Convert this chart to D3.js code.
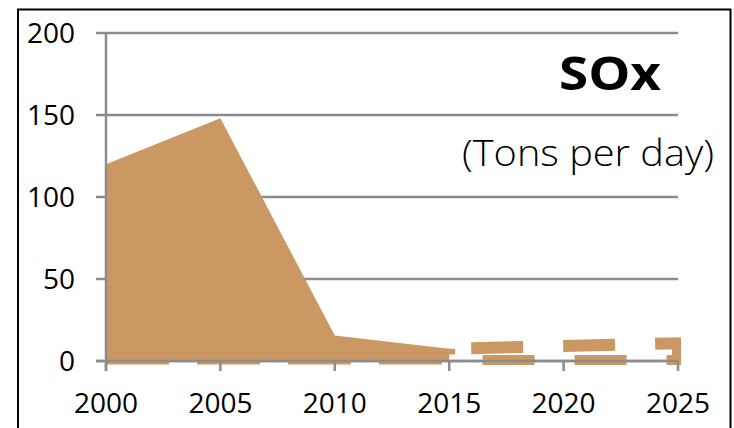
<!DOCTYPE html>
<html><head><meta charset="utf-8">
<script src="https://cdn.jsdelivr.net/npm/d3@7/dist/d3.min.js"></script>
<style>
html,body{margin:0;padding:0;background:#fff;}
svg{display:block;}
text{font-family:"Open Sans",sans-serif;fill:#000;}
</style></head>
<body>
<script>
const histYears = [2000, 2005, 2010, 2015];
const histValues = [120, 148, 15.5, 7.5];
const projYears = [2015, 2020, 2025];
const projValues = [7.5, 9.2, 10.8];
const xTicks = [2000, 2005, 2010, 2015, 2020, 2025];
const yTicks = [0, 50, 100, 150, 200];
const title = "SOx";
const subtitle = "(Tons per day)";

const W = 734, H = 428;
const svg = d3.select("body").append("svg").attr("width", W).attr("height", H);

svg.append("rect").attr("x", 18).attr("y", 9.5).attr("width", 712.5).attr("height", 440)
  .attr("fill", "none").attr("stroke", "#000").attr("stroke-width", 2);

const x = d3.scaleLinear().domain([2000, 2025]).range([106, 678]);
const y = d3.scaleLinear().domain([0, 200]).range([361, 33]);
const color = "#CB9863";
const grid = "#8C8C8C";

svg.append("g").selectAll("line").data(yTicks).join("line")
  .attr("x1", 96).attr("x2", 678)
  .attr("y1", d => y(d)).attr("y2", d => y(d))
  .attr("stroke", grid).attr("stroke-width", 2.5);

svg.append("defs").append("clipPath").attr("id", "clip")
  .append("rect").attr("x", 106).attr("y", 20).attr("width", 575).attr("height", 345);

const hist = histYears.map((d, i) => ({yr: d, v: histValues[i]}));
const proj = projYears.map((d, i) => ({yr: d, v: projValues[i]}));

const area = d3.area().x(d => x(d.yr)).y0(y(0)).y1(d => y(d.v));
const g = svg.append("g").attr("clip-path", "url(#clip)");

g.append("path").datum(hist).attr("d", area).attr("fill", color);

g.append("path").datum(hist)
  .attr("d", d3.line().x(d => x(d.yr)).y(() => y(0)))
  .attr("fill", "none").attr("stroke", color).attr("stroke-width", 7)
  .attr("stroke-dasharray", "63,28");

g.append("path").datum(proj).attr("d", area)
  .attr("fill", "none").attr("stroke", color).attr("stroke-width", 12)
  .attr("stroke-dasharray", "52,40").attr("stroke-dashoffset", 70);

svg.append("line").attr("x1", x(2000)).attr("x2", x(2000)).attr("y1", y(200)).attr("y2", y(0) + 10)
  .attr("stroke", grid).attr("stroke-width", 2.5);
svg.append("line").attr("x1", 96).attr("x2", 678).attr("y1", y(0)).attr("y2", y(0))
  .attr("stroke", grid).attr("stroke-width", 2.5);
svg.append("g").selectAll("line").data(xTicks).join("line")
  .attr("x1", d => x(d)).attr("x2", d => x(d)).attr("y1", y(0)).attr("y2", y(0) + 10)
  .attr("stroke", grid).attr("stroke-width", 2.5);

svg.append("g").selectAll("text").data(yTicks).join("text")
  .attr("x", 75).attr("y", d => y(d)).attr("dy", "0.36em")
  .attr("text-anchor", "end").attr("font-size", 28).text(d => d);
svg.append("g").selectAll("text").data(xTicks).join("text")
  .attr("x", d => x(d)).attr("y", 413)
  .attr("text-anchor", "middle").attr("font-size", 28).text(d => d);

svg.append("text").attr("x", 559).attr("y", 90)
  .attr("font-size", 47).attr("font-weight", 700)
  .attr("textLength", 102).attr("lengthAdjust", "spacingAndGlyphs").text(title);
svg.append("text").attr("x", 462).attr("y", 166)
  .attr("font-size", 37).attr("font-weight", 300)
  .attr("textLength", 252).attr("lengthAdjust", "spacingAndGlyphs").text(subtitle);
</script>
</body></html>
